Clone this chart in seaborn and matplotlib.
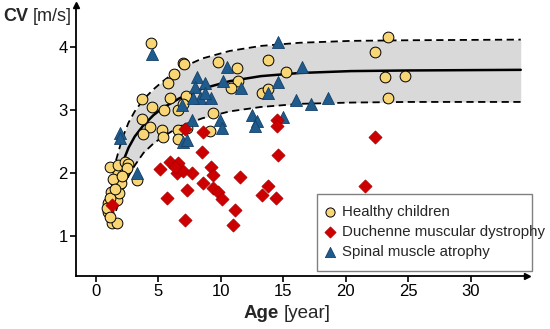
import matplotlib
matplotlib.use('Agg')
import matplotlib.pyplot as plt
from matplotlib.patches import Rectangle
import seaborn as sns

# values
healthy_age = [0.95, 1.0, 1.3, 1.7, 1.2, 1.6, 1.7, 1.85, 2.0, 1.75, 1.1, 1.75, 2.3, 2.6, 2.5,
               0.9, 1.1, 1.4, 2.1, 1.5, 1.1, 3.3,
               4.4, 6.95, 6.25, 5.8, 3.7, 5.9, 4.5, 5.45, 6.6, 3.7, 4.3, 5.3, 3.8, 6.6,
               5.4, 6.6, 7.3,
               7.05, 9.8, 11.3, 13.8, 15.2, 11.4, 10.8, 13.3, 13.8, 7.2, 7.0, 9.4, 9.1,
               22.3, 23.4, 23.1, 24.7, 23.4]
healthy_cv = [1.38, 1.52, 1.2, 1.2, 1.7, 1.84, 1.57, 1.68, 1.84, 2.0, 2.1, 2.13, 2.17, 2.15, 2.08,
              1.45, 1.6, 1.9, 1.95, 1.75, 1.3, 1.89,
              4.07, 3.75, 3.57, 3.43, 3.17, 3.2, 3.05, 3.0, 3.0, 2.86, 2.73, 2.68, 2.62, 2.68,
              2.58, 2.54, 2.71,
              3.73, 3.76, 3.67, 3.8, 3.6, 3.47, 3.35, 3.28, 3.34, 3.22, 3.1, 2.96, 2.67,
              3.92, 4.16, 3.52, 3.55, 3.19]

dmd_age = [1.3, 5.1, 5.9, 6.6, 6.5, 7.0, 7.7, 7.3, 5.7, 7.1, 8.5, 9.2, 9.35, 8.6, 9.4,
           9.8, 10.1, 11.1, 11.0, 11.5, 13.3, 13.8, 14.4, 14.6, 14.5, 14.5, 7.1, 8.6,
           22.3, 21.5, 6.3]
dmd_cv = [1.5, 2.06, 2.17, 2.16, 2.0, 2.04, 2.0, 1.73, 1.6, 1.25, 2.33, 2.1, 1.97, 1.84, 1.76,
          1.7, 1.59, 1.41, 1.17, 1.94, 1.65, 1.79, 1.6, 2.28, 2.84, 2.75, 2.7, 2.66,
          2.57, 1.8, 2.1]

sma_age = [1.9, 1.9, 3.3, 4.5, 14.6, 10.5, 16.5, 8.1, 8.75, 7.9, 10.2, 11.6, 14.6, 13.8,
           8.3, 9.2, 7.8, 8.75, 16.0, 17.2, 18.6, 12.5, 12.9, 12.7, 9.9, 10.1, 15.0,
           7.7, 6.9, 7.0, 7.3]
sma_cv = [2.63, 2.55, 2.0, 3.89, 4.08, 3.68, 3.68, 3.52, 3.43, 3.37, 3.46, 3.35, 3.45, 3.27,
          3.2, 3.2, 3.19, 3.27, 3.16, 3.09, 3.19, 2.93, 2.83, 2.74, 2.84, 2.72, 2.89,
          2.84, 3.08, 2.5, 2.53]

fit_age = [1.0, 1.4, 1.75, 2.1, 2.6, 3.1, 3.8, 4.6, 5.3, 6.7, 8.5, 10.7, 13.2, 16.3, 20.4, 25, 34]
fit_cv = [1.33, 1.65, 1.92, 2.15, 2.40, 2.58, 2.76, 2.92, 3.03, 3.19, 3.34, 3.46, 3.54, 3.59,
          3.62, 3.63, 3.64]

band_age = [1.6, 2.1, 2.6, 3.1, 3.8, 4.6, 5.3, 6.7, 8.5, 10.7, 13.2, 16.3, 20.4, 25, 34]
band_upper = [2.2, 2.55, 2.8, 2.98, 3.17, 3.33, 3.45, 3.66, 3.82, 3.94, 4.02, 4.07, 4.10, 4.11, 4.12]
band_lower = [1.4, 1.7, 1.95, 2.12, 2.32, 2.47, 2.57, 2.74, 2.87, 2.98, 3.05, 3.10, 3.12, 3.13, 3.13]

sns.set_style('white')
plt.rcParams['font.family'] = ['Liberation Sans', 'DejaVu Sans']

W, H = 550, 329
fig = plt.figure(figsize=(5.5, 3.29), dpi=100)
ax = fig.add_axes([76 / W, 1 - 276 / H, (527 - 76) / W, (276 - 5) / H])

# confidence band + fitted curve
ax.fill_between(band_age, band_lower, band_upper, color='#d9d9d9', lw=0, zorder=1)
ax.plot(band_age, band_upper, color='black', ls=(0, (4, 2.5)), lw=1.3, zorder=2)
ax.plot(band_age, band_lower, color='black', ls=(0, (4, 2.5)), lw=1.3, zorder=2)
sns.lineplot(x=fit_age, y=fit_cv, color='black', lw=1.8, ax=ax, zorder=2)

sns.scatterplot(x=healthy_age, y=healthy_cv, marker='o', s=60, color='#f8d675',
                edgecolor='black', linewidth=0.7, label='Healthy children', ax=ax, zorder=3)
sns.scatterplot(x=sma_age, y=sma_cv, marker='^', s=75, color='#1f5b8c',
                edgecolor='#16406a', linewidth=0.6, label='Spinal muscle atrophy', ax=ax, zorder=4)
sns.scatterplot(x=dmd_age, y=dmd_cv, marker='D', s=45, color='#cc0000',
                edgecolor='#aa0000', linewidth=0.5, label='Duchenne muscular dystrophy', ax=ax, zorder=5)

ax.set_xlim(-1.6, 34.5)
ax.set_ylim(0.365, 4.67)
ax.set_xticks([0, 5, 10, 15, 20, 25, 30])
ax.set_yticks([1, 2, 3, 4])
ax.set_xlabel('')
ax.set_ylabel('')
sns.despine(ax=ax)
for s in ['left', 'bottom']:
    ax.spines[s].set_linewidth(1.3)
    ax.spines[s].set_color('black')
ax.tick_params(bottom=True, left=True, direction='out', length=4, width=1.2,
               labelsize=12, pad=2, colors='black')
# arrow heads on the axes
ax.plot(1, 0, '>k', ms=5, transform=ax.transAxes, clip_on=False)
ax.plot(0, 1, '^k', ms=5, transform=ax.transAxes, clip_on=False)

# axis titles: bold variable + normal unit
fig.text(3 / W, 1 - 21 / H, 'CV', fontsize=13, weight='bold', ha='left', va='baseline')
fig.text(33 / W, 1 - 21 / H, '[m/s]', fontsize=13, ha='left', va='baseline')
fig.text(279 / W, 1 - 318 / H, 'Age', fontsize=13.5, weight='bold', ha='right', va='baseline')
fig.text(284 / W, 1 - 318 / H, '[year]', fontsize=13.5, ha='left', va='baseline')

# legend box is narrower than its longest label in the reference, so the frame is drawn separately
ax.add_patch(Rectangle((317 / W, 1 - 271 / H), (532 - 317) / W, (271 - 194) / H,
                       transform=fig.transFigure, clip_on=False, facecolor='white',
                       edgecolor='#808080', lw=1.0, zorder=6))
handles, labels = ax.get_legend_handles_labels()
order = [labels.index('Healthy children'), labels.index('Duchenne muscular dystrophy'),
         labels.index('Spinal muscle atrophy')]
leg = ax.legend([handles[i] for i in order], [labels[i] for i in order],
                loc='upper left', bbox_to_anchor=(322.5 / W, 1 - 205 / H),
                bbox_transform=fig.transFigure, frameon=False, fontsize=10.8,
                handlelength=1.0, handletextpad=0.3, borderpad=0, borderaxespad=0,
                labelspacing=0.4, markerscale=0.85)
leg.set_zorder(7)

fig.savefig('out.png', dpi=100)
